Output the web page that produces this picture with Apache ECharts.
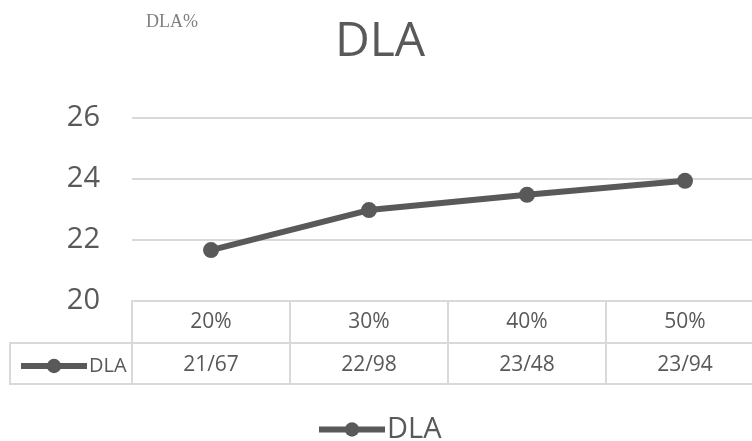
<!DOCTYPE html>
<html><head><meta charset="utf-8">
<script src="https://cdn.jsdelivr.net/npm/echarts@6/dist/echarts.min.js"></script>
<style>html,body{margin:0;padding:0;background:#fff}#c{width:752px;height:441px}</style>
</head><body><div id="c"></div>
<script>
var categories = ['20%', '30%', '40%', '50%'];
var seriesName = 'DLA';
var dlaValues = [21.67, 22.98, 23.48, 23.94];
var yTicks = [20, 22, 24, 26];

var txt = '#595959';
var grid = '#d9d9d9';
var font = 'Open Sans';

var chart = echarts.init(document.getElementById('c'), null, {renderer: 'canvas'});
chart.setOption({
  animation: false,
  backgroundColor: '#fff',
  title: [
    {text: 'DLA', left: 375, top: 13, textAlign: 'center',
     textStyle: {fontFamily: font, fontSize: 48, fontWeight: 'normal', color: txt}},
    {text: 'DLA%', left: 141, top: 8,
     textStyle: {fontFamily: 'Liberation Serif', fontSize: 18, fontWeight: 'normal', color: '#7f7f7f'}}
  ],
  legend: [
    {data: [seriesName], left: 311, top: 410, itemWidth: 66, itemHeight: 18, itemGap: 0,
     lineStyle: {width: 6, color: txt}, itemStyle: {color: txt},
     textStyle: {fontFamily: font, fontSize: 29, color: txt, padding: [0, 0, 0, -3]}},
    {data: [seriesName], left: 13, top: 351, itemWidth: 66, itemHeight: 18, itemGap: 0,
     lineStyle: {width: 6, color: txt}, itemStyle: {color: txt},
     textStyle: {fontFamily: font, fontSize: 20, color: txt, padding: [0, 0, 0, -3]}}
  ],
  grid: [
    {left: 132, top: 118, width: 632, height: 183, show: false, outerBoundsMode: 'none'},
    {left: 132, top: 301, width: 632, height: 83, show: true, outerBoundsMode: 'none', borderColor: grid, borderWidth: 2, backgroundColor: 'transparent'},
    {left: 10, top: 343, width: 122, height: 41, show: true, outerBoundsMode: 'none', borderColor: grid, borderWidth: 2, backgroundColor: 'transparent'}
  ],
  xAxis: [
    {gridIndex: 0, type: 'category', data: categories, boundaryGap: true,
     axisLine: {show: false}, axisTick: {show: false}, axisLabel: {show: false}, splitLine: {show: false}},
    {gridIndex: 1, type: 'category', data: categories, boundaryGap: true, position: 'top',
     axisLine: {show: false}, axisTick: {show: false},
     splitLine: {show: true, interval: 0, lineStyle: {color: grid, width: 2}},
     axisLabel: {inside: true, margin: 11, interval: 0, fontFamily: font, fontSize: 21, color: txt}},
    {gridIndex: 1, type: 'category', data: dlaValues.map(function (v) { return String(v).replace('.', '/'); }),
     boundaryGap: true, position: 'bottom',
     axisLine: {show: false}, axisTick: {show: false}, splitLine: {show: false},
     axisLabel: {inside: true, margin: 8, interval: 0, fontFamily: font, fontSize: 21, color: txt}},
    {gridIndex: 2, type: 'value', show: false}
  ],
  yAxis: [
    {gridIndex: 0, type: 'value', min: yTicks[0], max: yTicks[yTicks.length - 1], interval: 2,
     axisLine: {show: false}, axisTick: {show: false},
     splitLine: {show: true, lineStyle: {color: grid, width: 2}},
     axisLabel: {margin: 32, fontFamily: font, fontSize: 29, color: txt}},
    {gridIndex: 1, type: 'value', min: 0, max: 2, interval: 1,
     axisLine: {show: false}, axisTick: {show: false}, axisLabel: {show: false},
     splitLine: {show: true, lineStyle: {color: grid, width: 2}}},
    {gridIndex: 2, type: 'value', show: false}
  ],
  series: [{
    name: seriesName, type: 'line', xAxisIndex: 0, yAxisIndex: 0,
    data: dlaValues, symbol: 'circle', symbolSize: 16,
    lineStyle: {color: txt, width: 6}, itemStyle: {color: txt}
  }]
});
</script></body></html>
